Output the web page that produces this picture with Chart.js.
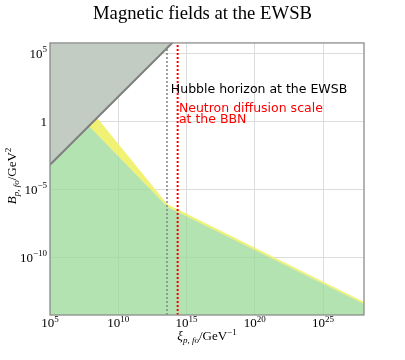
<!DOCTYPE html>
<html>
<head>
<meta charset="utf-8">
<script src="https://cdn.jsdelivr.net/npm/chart.js@4.4.1/dist/chart.umd.min.js"></script>
<style>
  html, body { margin: 0; padding: 0; background: #fff; }
</style>
</head>
<body>
<canvas id="chart" width="405" height="360"></canvas>
<script>
/* all values are log10 exponents (xi in GeV^-1, B in GeV^2) */
const xTicks = [5, 10, 15, 20, 25];
const yTicks = [-10, -5, 0, 5];
const xRange = [5, 28];
const yRange = [-14.25, 5.75];

const limitX  = [5, 14.2];                  // gray boundary line
const limitY  = [-3.2, 6.0];
const greenX  = [5, 7.85, 13.6, 28];
const greenY  = [-3.2, -0.35, -6.3, -13.45];
const yellowX = [5, 8.45, 13.6, 28];
const yellowY = [-3.2, 0.25, -6.1, -13.3];
const hubbleX = 13.57;
const bbnX    = 14.35;

const SERIF = '"Liberation Serif", "DejaVu Serif", serif';
const SANS  = '"DejaVu Sans", sans-serif';

const pts = (xs, ys) => xs.map((v, i) => ({ x: v, y: ys[i] }));
const vline = v => [{ x: v, y: yRange[0] }, { x: v, y: yRange[1] }];

/* draws a run of [text, font, dy] pieces */
function drawRich(ctx, parts, x, y, align) {
  let w = 0;
  parts.forEach(p => { ctx.font = p[1]; w += ctx.measureText(p[0]).width; });
  let cx = align === 'center' ? x - w / 2 : align === 'right' ? x - w : x;
  ctx.textAlign = 'left';
  ctx.textBaseline = 'alphabetic';
  parts.forEach(p => {
    ctx.font = p[1];
    ctx.fillText(p[0], cx, y + p[2]);
    cx += ctx.measureText(p[0]).width;
  });
}

function powParts(e) {
  if (e === 0) return [['1', '13px ' + SERIF, 0]];
  return [['10', '13px ' + SERIF, 0], [String(e).replace('-', '\u2212'), '9px ' + SERIF, -5.5]];
}

const overlay = {
  id: 'overlay',
  afterDatasetsDraw(chart) {
    const { ctx, chartArea: a, scales: { x, y } } = chart;
    ctx.save();

    // annotations
    ctx.textAlign = 'left';
    ctx.textBaseline = 'alphabetic';
    ctx.font = '12.5px ' + SANS;
    ctx.fillStyle = '#000';
    ctx.fillText('Hubble horizon at the EWSB', x.getPixelForValue(13.85), y.getPixelForValue(2.1));
    ctx.fillStyle = '#ff0000';
    ctx.fillText('Neutron diffusion scale', x.getPixelForValue(14.44), y.getPixelForValue(0.7));
    ctx.fillText('at the BBN', x.getPixelForValue(14.44), y.getPixelForValue(-0.12));

    // frame
    ctx.strokeStyle = '#8c8c8c';
    ctx.lineWidth = 1.3;
    ctx.strokeRect(a.left, a.top, a.right - a.left, a.bottom - a.top);

    // tick labels
    ctx.fillStyle = '#000';
    xTicks.forEach(e => drawRich(ctx, powParts(e), x.getPixelForValue(e), a.bottom + 12, 'center'));
    yTicks.forEach(e => drawRich(ctx, powParts(e), a.left - 3, y.getPixelForValue(e) + 4.5, 'right'));

    // axis titles
    const it = 'italic 13px ' + SERIF, its = 'italic 9px ' + SERIF;
    drawRich(ctx, [['\u03be', it, 0], ['p, fo', its, 3], ['/GeV', '13px ' + SERIF, 0], ['\u22121', '9px ' + SERIF, -5.5]],
      (a.left + a.right) / 2, 340, 'center');
    ctx.translate(16, (a.top + a.bottom) / 2 - 3);
    ctx.rotate(-Math.PI / 2);
    drawRich(ctx, [['B', it, 0], ['p, fo', its, 3], ['/GeV', '13px ' + SERIF, 0], ['2', '9px ' + SERIF, -5.5]], 0, 0, 'center');
    ctx.restore();
  }
};

const hiddenAxis = (pos, range) => ({
  type: 'linear', position: pos, min: range[0], max: range[1],
  ticks: { display: false }, grid: { display: false }, border: { display: false },
});

new Chart(document.getElementById('chart'), {
  type: 'scatter',
  data: {
    datasets: [
      { data: pts(limitX, limitY), showLine: true, pointRadius: 0, borderColor: '#7f7f7f', borderWidth: 2,
        fill: 'end', backgroundColor: 'rgba(190,200,190,0.92)' },
      { data: vline(hubbleX), showLine: true, pointRadius: 0, borderColor: '#8a8a8a', borderWidth: 1.6,
        borderDash: [2, 2], fill: false },
      { data: vline(bbnX), showLine: true, pointRadius: 0, borderColor: '#ff0000', borderWidth: 2,
        borderDash: [2, 2], fill: false },
      { data: pts(greenX, greenY), showLine: true, pointRadius: 0, borderWidth: 0,
        fill: 'start', backgroundColor: 'rgba(154,218,150,0.75)' },
      { data: pts(yellowX, yellowY), showLine: true, pointRadius: 0, borderWidth: 0,
        fill: 3, backgroundColor: 'rgba(240,240,100,0.9)' },
    ],
  },
  options: {
    responsive: false,
    animation: false,
    layout: { padding: 0 },
    plugins: {
      legend: { display: false },
      tooltip: { enabled: false },
      title: {
        display: true,
        text: 'Magnetic fields at the EWSB',
        color: '#000',
        font: { family: SERIF, size: 18.7, weight: 'normal' },
        padding: { top: 3, bottom: 17.5 },
      },
    },
    scales: {
      x: {
        type: 'linear', min: xRange[0], max: xRange[1],
        afterBuildTicks: s => { s.ticks = xTicks.map(v => ({ value: v })); },
        afterFit: s => { s.height = 45; },
        ticks: { display: false },
        grid: { color: '#dcdcdc', lineWidth: 1, drawTicks: false },
        border: { display: false },
      },
      y: {
        type: 'linear', min: yRange[0], max: yRange[1],
        afterBuildTicks: s => { s.ticks = yTicks.map(v => ({ value: v })); },
        afterFit: s => { s.width = 50; },
        ticks: { display: false },
        grid: { color: '#dcdcdc', lineWidth: 1, drawTicks: false },
        border: { display: false },
      },
      yR: Object.assign(hiddenAxis('right', yRange), { afterFit: s => { s.width = 41; } }),
    },
  },
  plugins: [overlay],
});
</script>
</body>
</html>
